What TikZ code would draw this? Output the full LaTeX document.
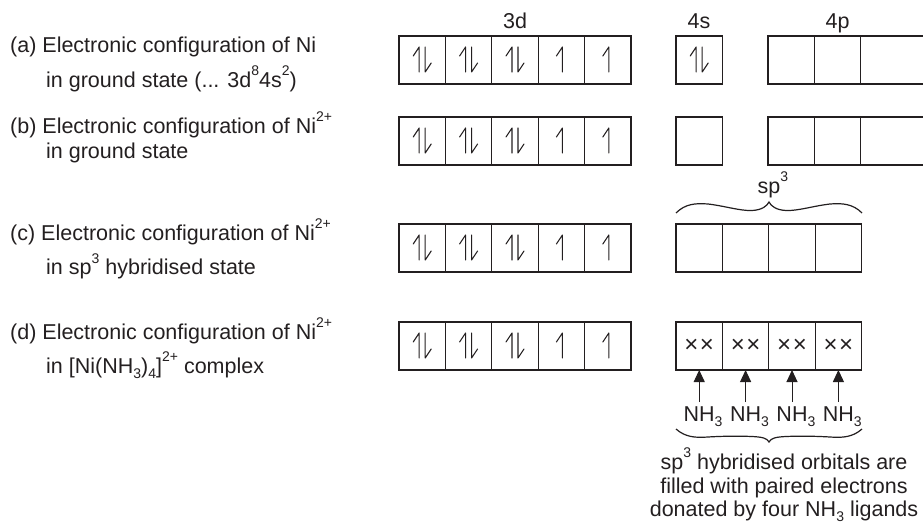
\documentclass[tikz,border=0pt]{standalone}
\usepackage{fontspec}
\setmainfont{Liberation Sans}
\usetikzlibrary{arrows.meta}
\definecolor{ink}{RGB}{35,31,32}
\newcommand\sups[1]{\raisebox{12pt}{\fontsize{14}{14}\selectfont #1}}
\newcommand\subs[1]{\raisebox{-5pt}{\fontsize{14}{14}\selectfont #1}}
\tikzset{
  orb/.style={draw=ink, line width=1.2pt, minimum width=46.4pt, minimum height=48pt, inner sep=0pt, outer sep=0pt},
  lbl/.style={text=ink, inner sep=0pt, font=\fontsize{21.5}{26}\selectfont},
  harp/.style={draw=ink, line width=1.05pt, line cap=round, line join=round},
  brc/.style={draw=ink, line width=1.2pt},
  donor/.style={draw=ink, line width=1pt, -{Triangle[length=12pt,width=11pt]}},
  pics/paired/.style={code={
    \draw[harp] (-9,-4) -- (-3,-13) -- (-3,12);
    \draw[harp] (3,-13) -- (3,12) -- (9,3);
  }},
  pics/single/.style={code={
    \draw[harp] (-5,-4) -- (1,-13) -- (1,12);
  }}
}
\begin{document}
\begin{tikzpicture}[x=1pt,y=-1pt]
\useasboundingbox (0,0) rectangle (923,529);
% left texts
\node[lbl,anchor=base west] (ta1) at (10,53) {(a) Electronic configuration of Ni};
\node[lbl,anchor=base west] (ta2) at (46,88) {in ground state (... 3d\sups{8}4s\sups{2})};
\node[lbl,anchor=base west] (tb1) at (10,134) {(b) Electronic configuration of Ni\sups{2+}};
\node[lbl,anchor=base west] (tb2) at (46,159) {in ground state};
\node[lbl,anchor=base west] (tc1) at (10,241) {(c) Electronic configuration of Ni\sups{2+}};
\node[lbl,anchor=base west] (tc2) at (46,275) {in sp\sups{3} hybridised state};
\node[lbl,anchor=base west] (td1) at (10,339) {(d) Electronic configuration of Ni\sups{2+}};
\node[lbl,anchor=base west] (td2) at (46,373) {in [Ni(NH\subs{3})\subs{4}]\sups{2+} complex};
% headers
\node[lbl,anchor=base] (h3d) at (515,29) {3d};
\node[lbl,anchor=base] (h4s) at (699,29) {4s};
\node[lbl,anchor=base] (h4p) at (837.6,29) {4p};
% 3d rows
\foreach \r/\y in {a/60,b/141,c/248,d/346}{
  \foreach \i in {1,...,5}{
    \node[orb] (\r d\i) at ({399+46.4*(\i-0.5)},\y) {};
  }
  \pic at (\r d1) {paired};
  \pic at (\r d2) {paired};
  \pic at (\r d3) {paired};
  \pic at (\r d4) {single};
  \pic at (\r d5) {single};
}
% 4s and 4p, rows a and b
\foreach \r/\y in {a/60,b/141}{
  \node[orb] (\r s) at (699.2,\y) {};
  \node[orb] (\r p1) at (791.2,\y) {};
  \node[orb] (\r p2) at (837.6,\y) {};
  \draw[ink,line width=1.2pt] (\r p2.north east) -- (923,\y-24) (\r p2.south east) -- (923,\y+24);
}
\pic at (as) {paired};
% sp3 rows c and d
\foreach \r/\y in {c/248,d/346}{
  \foreach \i in {1,...,4}{
    \node[orb] (\r h\i) at ({676+46.4*(\i-0.5)},\y) {};
  }
}
\foreach \i in {1,...,4}{
  \node[lbl,font=\fontsize{24}{24}\selectfont] at (dh\i) {×\kern1.5pt×};
}
% upper brace and label
\draw[brc] (676,213) .. controls (685,204) and (695,203) .. (708,204)
  .. controls (725,206) and (740,211) .. (752,210.5)
  .. controls (762,210) and (767,206) .. (769,202)
  .. controls (771,206) and (776,210) .. (786,210.5)
  .. controls (798,211) and (813,206) .. (830,204)
  .. controls (843,203) and (853,204) .. (862,213);
\node[lbl,anchor=base] (sp) at (769,194) {sp\rlap{\sups{3}}};
% ligands
\foreach \i in {1,...,4}{
  \node[lbl,anchor=base] (n\i) at ({676+46.4*(\i-0.5)},421) {NH\rlap{\subs{3}}};
  \draw[donor] (n\i.north) ++(0,-4) coordinate (nt\i) -- (nt\i |- dh\i.south);
}
% lower brace
\draw[brc] (676,429) .. controls (685,437) and (695,438) .. (708,437)
  .. controls (725,436) and (740,436) .. (752,436.5)
  .. controls (762,437) and (767,438) .. (769,442)
  .. controls (771,438) and (776,437) .. (786,436.5)
  .. controls (798,436) and (813,436) .. (830,437)
  .. controls (843,438) and (853,437) .. (862,429);
% explanation
\node[lbl,anchor=base] (e1) at (784,469) {sp\sups{3} hybridised orbitals are};
\node[lbl,anchor=base] (e2) at (784,493) {filled with paired electrons};
\node[lbl,anchor=base] (e3) at (784,516) {donated by four NH\subs{3} ligands};
\end{tikzpicture}
\end{document}
